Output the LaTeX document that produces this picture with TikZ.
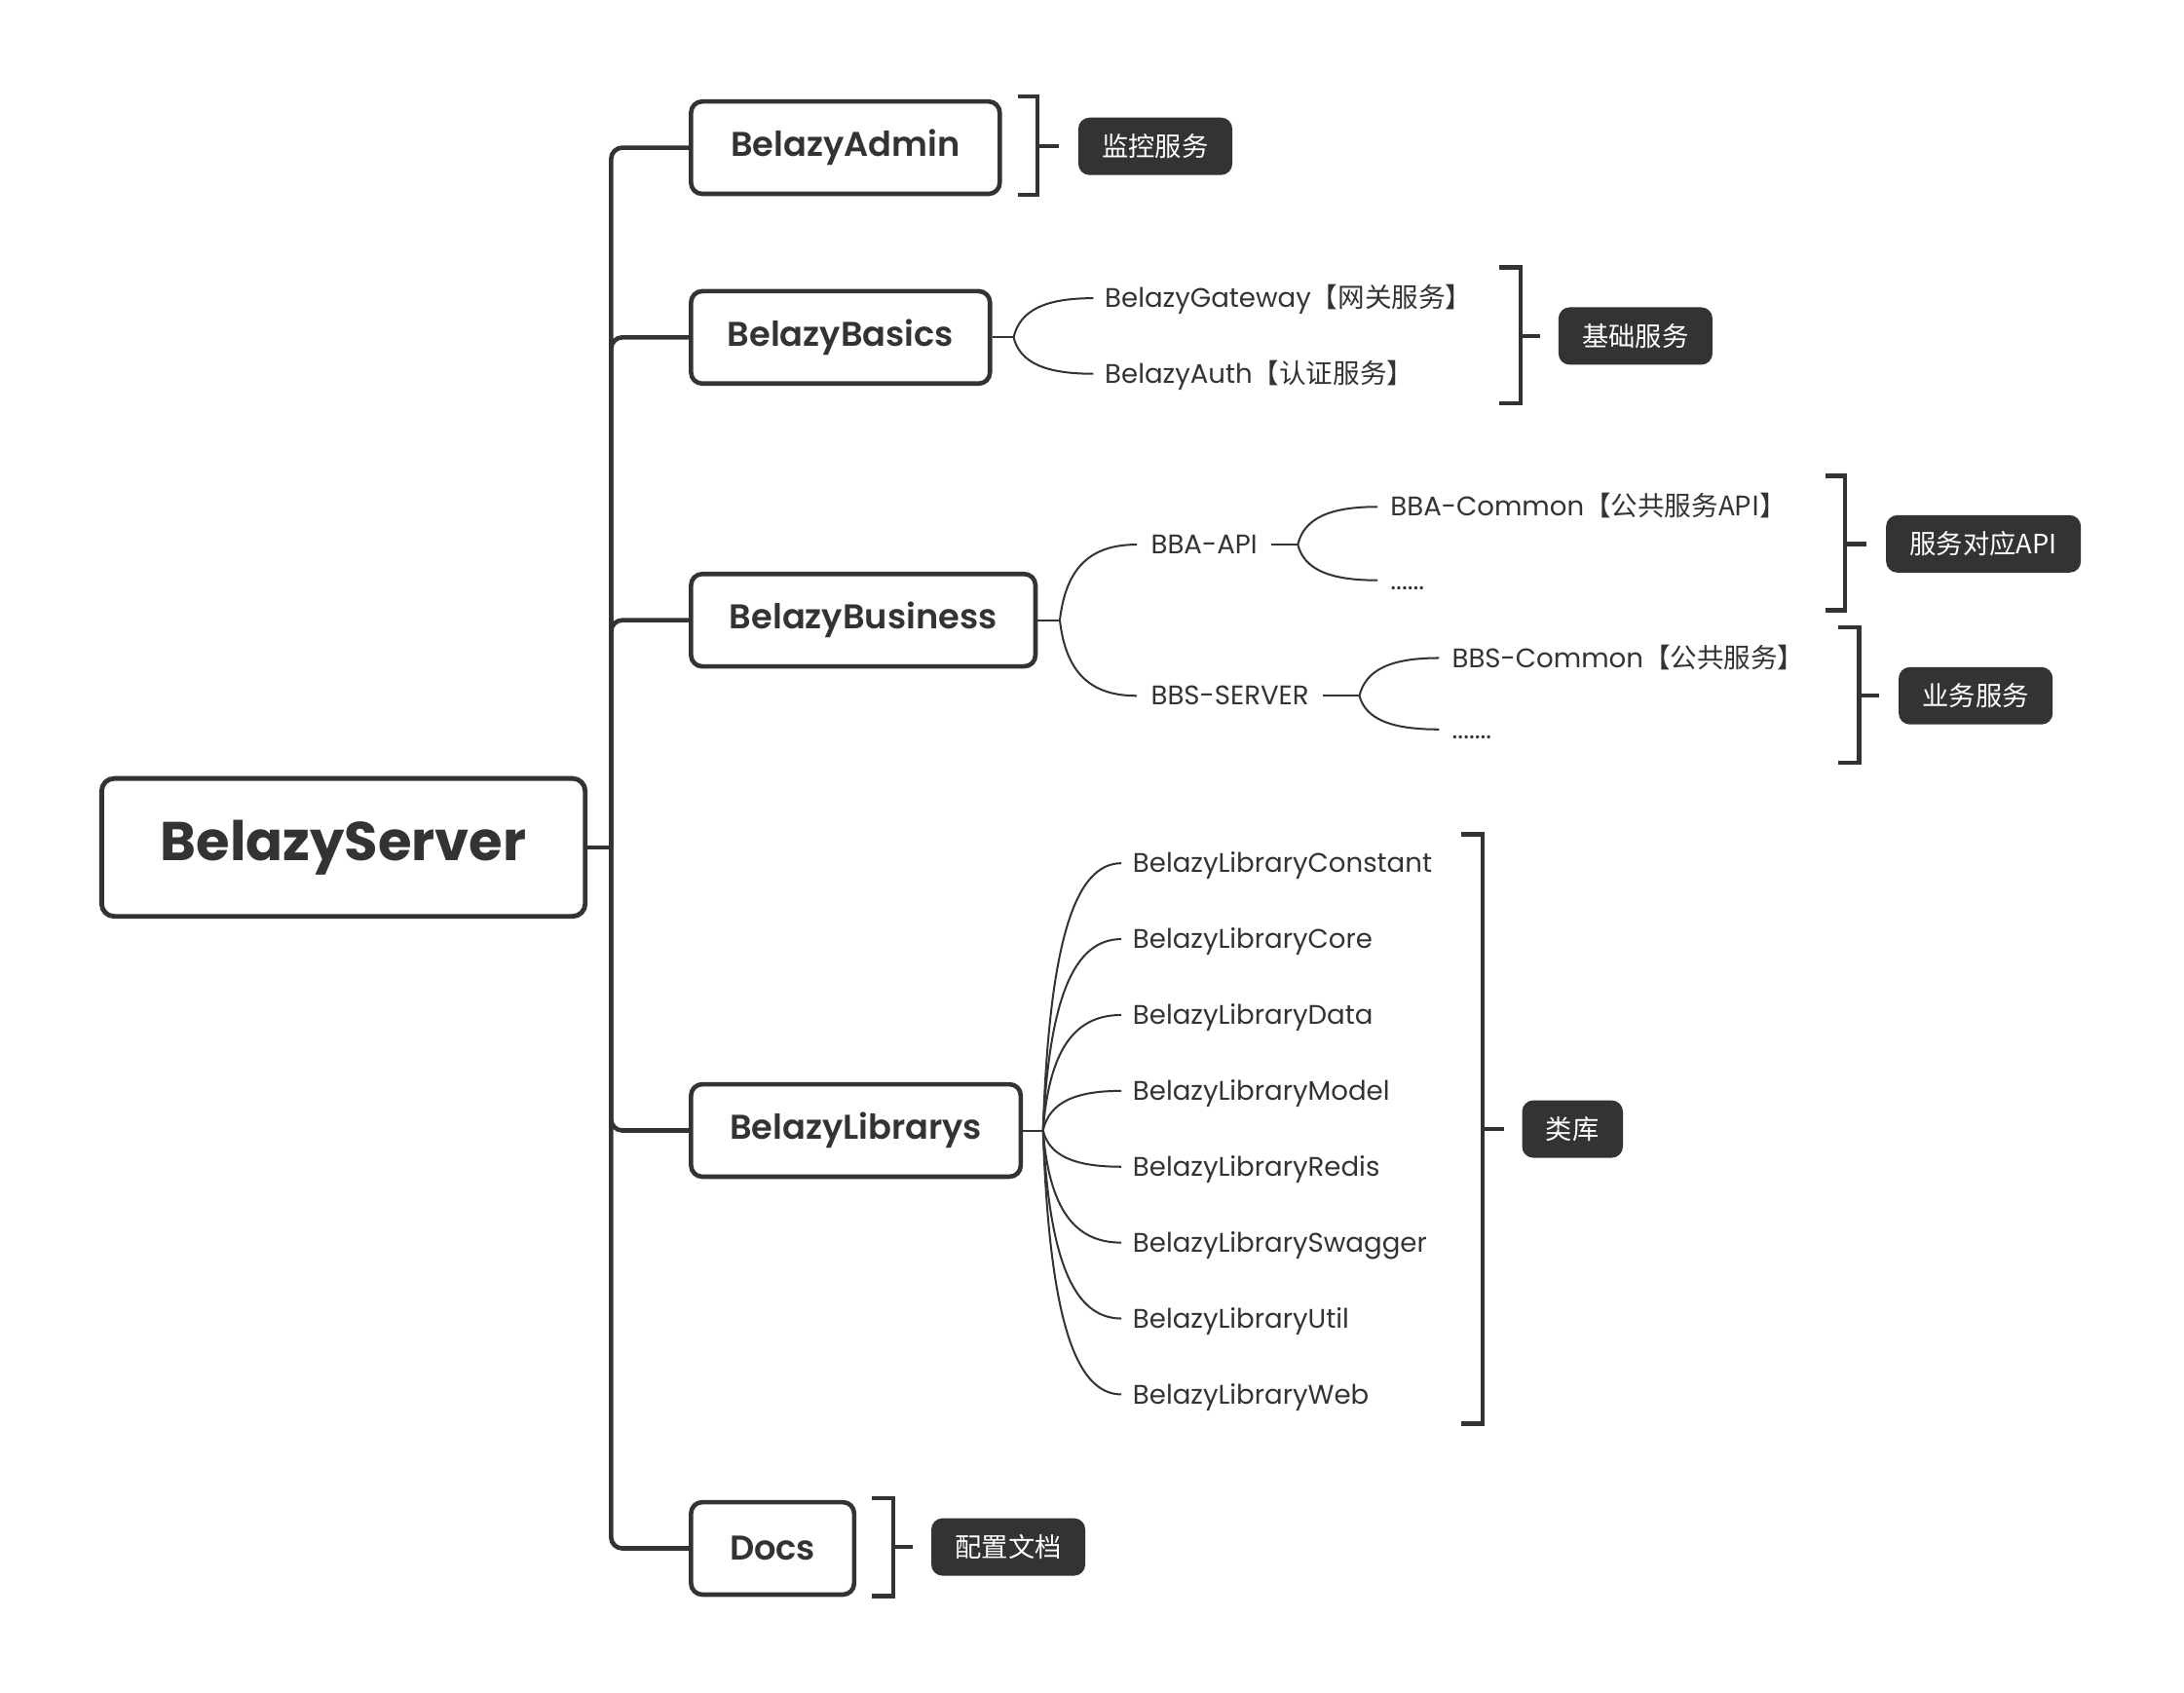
\documentclass[tikz,border=0pt]{standalone}
\usepackage{fontspec}
\setmainfont{Poppins}
\newfontfamily\cjk{Noto Sans CJK SC}
\IfFontExistsTF{Poppins SemiBold}{\newfontfamily\semib{Poppins SemiBold}}{\newcommand\semib{\bfseries}}
\usetikzlibrary{calc}
\definecolor{ink}{HTML}{333333}
\begin{document}
\begin{tikzpicture}[x=1pt,y=-1pt,
 mainbox/.style={draw=ink, line width=3.2pt, rounded corners=8pt, inner sep=0pt, text=ink, font=\semib\fontsize{24.5}{28}\selectfont, minimum height=66pt, anchor=west},
 rootbox/.style={draw=ink, line width=3.4pt, rounded corners=9pt, inner sep=0pt, text=ink, font=\bfseries\fontsize{39}{44}\selectfont, minimum width=345.4pt, minimum height=98.5pt},
 trunk/.style={draw=ink, line width=3.2pt, rounded corners=8pt},
 twig/.style={draw=ink, line width=1.4pt, to path={let \p1=(\tikztostart), \p2=(\tikztotarget) in .. controls ({\x1+0.08*(\x2-\x1)},{\y1+0.7*(\y2-\y1)}) and ({\x1+0.4*(\x2-\x1)},{\y2}) .. (\tikztotarget)}},
 stub/.style={draw=ink, line width=1.4pt},
 leaf/.style={anchor=west, inner sep=0pt, text=ink, font=\fontsize{19.2}{23}\selectfont, text height=13.5pt, text depth=0pt},
 bracket/.style={draw=ink, line width=3pt},
 tagbox/.style={anchor=west, fill=ink, text=white, rounded corners=8pt, inner xsep=17pt, inner ysep=0pt, minimum height=41pt, font=\cjk\fontsize{19}{22}\selectfont}
]
\useasboundingbox (0,0) rectangle (1560,1209.3);

% root and trunk
\node[rootbox] (root) at (245.3,605.3) {BelazyServer};
\coordinate (hub) at (436.5,605.3);
\draw[draw=ink, line width=3.2pt] (root.east) -- (hub);

\node[mainbox, minimum width=220.5pt] (admin) at (492,105.5) {BelazyAdmin};
\node[mainbox, minimum width=213.5pt] (basics) at (492,241) {BelazyBasics};
\node[mainbox, minimum width=246pt] (business) at (492,443) {BelazyBusiness};
\node[mainbox, minimum width=235.5pt] (librarys) at (492,807.5) {BelazyLibrarys};
\node[mainbox, minimum width=116.5pt] (docs) at (492,1106) {Docs};

\draw[trunk] (hub) |- (admin.west);
\draw[trunk] (hub) |- (basics.west);
\draw[trunk] (hub) |- (business.west);
\draw[trunk] (hub) |- (librarys.west);
\draw[trunk] (hub) |- (docs.west);

% Basics
\coordinate (bsf) at (724,241);
\draw[stub] (basics.east) -- (bsf);
\node[leaf] (gw) at (789,213) {BelazyGateway{\cjk【网关服务】}};
\node[leaf] (auth) at (789,267) {BelazyAuth{\cjk【认证服务】}};
\coordinate (gwe) at (781,213);
\coordinate (authe) at (781,267);
\draw[twig] (bsf) to (gwe);
\draw[twig] (bsf) to (authe);

% Business
\coordinate (buf) at (757,443);
\draw[stub] (business.east) -- (buf);
\node[leaf] (bba) at (822,389) {BBA-API};
\node[leaf] (bbs) at (822,497) {BBS-SERVER};
\coordinate (bbae) at (812,389);
\coordinate (bbse) at (812,497);
\draw[twig] (buf) to (bbae);
\draw[twig] (buf) to (bbse);

\coordinate (bbaf) at (927,389);
\draw[stub] ([xshift=10pt]bba.east) -- (bbaf);
\node[leaf] (bbac) at (993,362) {BBA-Common{\cjk【公共服务API】}};
\node[leaf] (bbad) at (993,414.5) {......};
\coordinate (bbace) at (984,362);
\coordinate (bbade) at (984,414.5);
\draw[twig] (bbaf) to (bbace);
\draw[twig] (bbaf) to (bbade);

\coordinate (bbsf) at (971,497);
\draw[stub] ([xshift=10pt]bbs.east) -- (bbsf);
\node[leaf] (bbsc) at (1037,470) {BBS-Common{\cjk【公共服务】}};
\node[leaf] (bbsd) at (1037,521) {.......};
\coordinate (bbsce) at (1028,470);
\coordinate (bbsde) at (1028,521);
\draw[twig] (bbsf) to (bbsce);
\draw[twig] (bbsf) to (bbsde);

% Librarys
\coordinate (lbf) at (745,807.5);
\draw[stub] (librarys.east) -- (lbf);
\foreach \nm [count=\i from 0] in {Constant,Core,Data,Model,Redis,Swagger,Util,Web}{
  \node[leaf] (lib\i) at (809,{616.6+54.2*\i}) {BelazyLibrary\nm};
  \coordinate (libe\i) at (801,{616.6+54.2*\i});
  \draw[twig] (lbf) to (libe\i);
}

% brackets and tags
\node[tagbox] (tadmin) at (770,104.5) {监控服务};
\draw[bracket] (727,69) -- (741,69) -- (741,139) -- (727,139);
\draw[bracket] (741,104.5) -- ([xshift=-14pt]tadmin.west);

\node[tagbox] (tbasics) at (1113,240) {基础服务};
\draw[bracket] (1071,191) -- (1086,191) -- (1086,288) -- (1071,288);
\draw[bracket] (1086,240) -- ([xshift=-13pt]tbasics.west);

\node[tagbox] (tapi) at (1347,388.5) {服务对应API};
\draw[bracket] (1304,340) -- (1318,340) -- (1318,436) -- (1304,436);
\draw[bracket] (1318,388.5) -- ([xshift=-14pt]tapi.west);

\node[tagbox] (tsrv) at (1356,497) {业务服务};
\draw[bracket] (1313,448) -- (1328,448) -- (1328,545) -- (1313,545);
\draw[bracket] (1328,497) -- ([xshift=-14pt]tsrv.west);

\node[tagbox] (tlib) at (1087,806.5) {类库};
\draw[bracket] (1044,596) -- (1059,596) -- (1059,1017) -- (1044,1017);
\draw[bracket] (1059,806.5) -- ([xshift=-13pt]tlib.west);

\node[tagbox] (tdocs) at (665,1105) {配置文档};
\draw[bracket] (623,1070) -- (638,1070) -- (638,1140) -- (623,1140);
\draw[bracket] (638,1105) -- ([xshift=-13pt]tdocs.west);
\end{tikzpicture}
\end{document}
